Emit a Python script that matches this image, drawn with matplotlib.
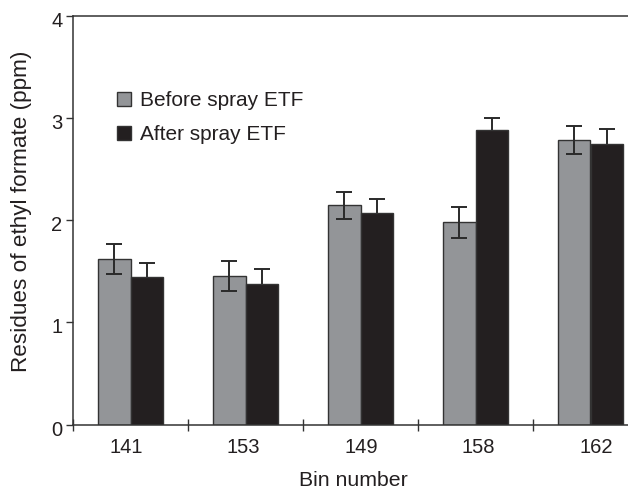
import matplotlib
matplotlib.use("Agg")
import matplotlib.pyplot as plt
import matplotlib.transforms as mtransforms
import numpy as np

plt.rcParams['font.family'] = ['Liberation Sans', 'DejaVu Sans']

bins = ["141", "153", "149", "158", "162"]
before = [1.62, 1.455, 2.145, 1.98, 2.785]
before_err = [0.145, 0.145, 0.135, 0.15, 0.138]
after = [1.44, 1.38, 2.075, 2.88, 2.745]
after_err = [0.145, 0.14, 0.137, 0.12, 0.147]

fig = plt.figure(figsize=(6.28, 4.91), dpi=100)
ax = fig.add_axes([73/628, 66.5/491, 575/628, 408.5/491])

x = np.arange(len(bins))
w = 0.283
gray = "#939598"
black = "#231f20"
edge = "#333333"
ecol = "#2a2a2a"

ax.bar(x - w/2, before, w, color=gray, edgecolor=edge, linewidth=1.0,
       label="Before spray ETF", zorder=2)
ax.bar(x + w/2, after, w, color=black, edgecolor=edge, linewidth=1.0,
       label="After spray ETF", zorder=2)
ax.errorbar(x - w/2, before, yerr=before_err, fmt='none', ecolor=ecol,
            elinewidth=1.4, capsize=5.5, capthick=1.4, zorder=3)
ax.errorbar(x + w/2, after, yerr=after_err, fmt='none', ecolor=ecol,
            elinewidth=1.4, capsize=5.5, capthick=1.4, zorder=1)

ax.set_xlim(-0.5, len(bins) - 0.5)
ax.set_ylim(0, 4)
ax.set_yticks([0, 1, 2, 3, 4])
# tick labels in the reference sit on a slightly wider spacing than the bars
ax.set_xticks(x * 1.022 - 0.04)
ax.set_xticklabels(bins)
ax.set_xticks(np.arange(len(bins) + 1) - 0.5, minor=True)
ax.tick_params(axis='x', which='major', length=0, pad=9.5, labelsize=14.5, colors="#231f20")
ax.tick_params(axis='x', which='minor', direction='inout', length=9, width=1.0, color="#333333")
ax.tick_params(axis='y', direction='out', length=5, width=1.0, pad=2.5, labelsize=14.5,
               color="#333333", labelcolor="#231f20")

# y tick labels sit a little below their ticks in the reference
shift = mtransforms.ScaledTranslation(0, -3.5 / 100, fig.dpi_scale_trans)
for lbl in ax.get_yticklabels():
    lbl.set_transform(lbl.get_transform() + shift)

for s in ['left', 'bottom', 'top']:
    ax.spines[s].set_color("#333333")
    ax.spines[s].set_linewidth(1.1)
ax.spines['right'].set_visible(False)

ax.set_xlabel("Bin number", fontsize=15.3, color="#231f20")
ax.xaxis.set_label_coords((353 - 73) / 575, -(481 - 424.5) / 408.5)
ax.xaxis.label.set_va('center')
ax.set_ylabel("Residues of ethyl formate (ppm)", fontsize=16.2, color="#231f20")
ax.yaxis.set_label_coords(-(73 - 22) / 575, (424.5 - 211) / 408.5)
ax.yaxis.label.set_va('center')

leg = ax.legend(loc='upper left', bbox_to_anchor=((117 - 73) / 575, (424.5 - 91) / 408.5),
                frameon=False, fontsize=15, handlelength=0.67, handleheight=0.65,
                handletextpad=0.45, labelspacing=0.72, borderaxespad=0, borderpad=0)
for t in leg.get_texts():
    t.set_color("#231f20")

fig.savefig("out.png", dpi=100)
